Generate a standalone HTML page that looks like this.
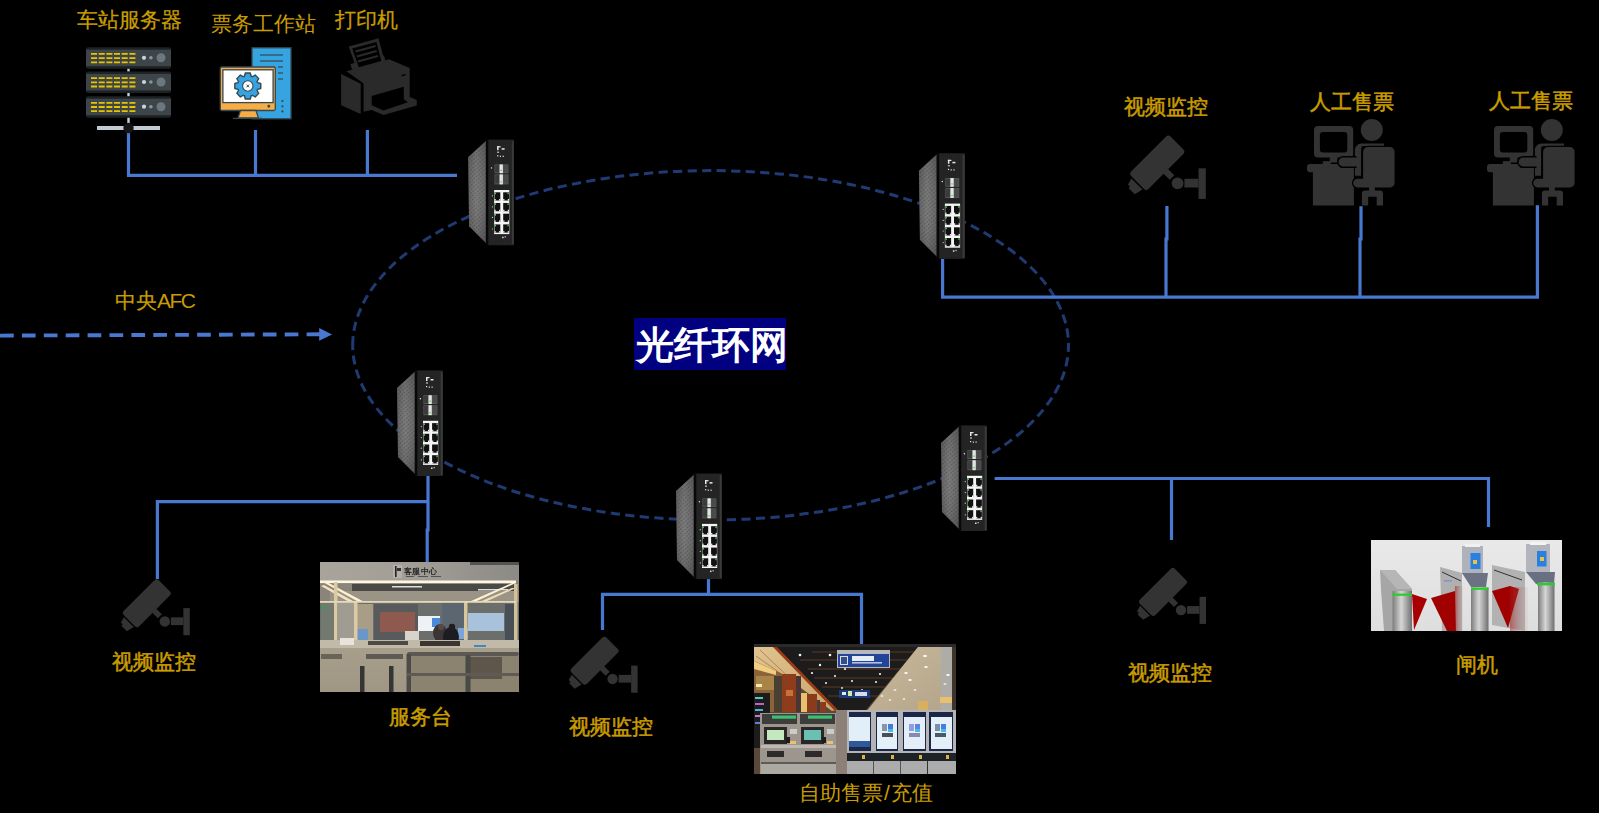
<!DOCTYPE html>
<html><head><meta charset="utf-8">
<style>
html,body{margin:0;padding:0;background:#000;}
body{width:1599px;height:813px;position:relative;overflow:hidden;font-family:"Liberation Sans",sans-serif;}
.lb{position:absolute;color:#C99D00;font-size:21px;line-height:21px;white-space:nowrap;}
#title{display:flex;justify-content:center;align-items:center;white-space:nowrap;position:absolute;left:634px;top:318px;width:152px;height:52px;background:#000080;color:#fff;font-size:38px;line-height:52px;padding:2px 0 0 3px;box-sizing:border-box;text-align:center;font-weight:700;letter-spacing:0px;}
svg{position:absolute;left:0;top:0;}
.b{-webkit-text-stroke:0.5px #C99D00;}
.m{-webkit-text-stroke:0.25px #C99D00;}
</style></head>
<body>
<svg width="1599" height="813" viewBox="0 0 1599 813">
<defs>
  <linearGradient id="sideG" x1="0" y1="0" x2="1" y2="0">
    <stop offset="0" stop-color="#5c5c5c"/><stop offset="0.45" stop-color="#767676"/><stop offset="1" stop-color="#606060"/>
  </linearGradient>
  <linearGradient id="sideV" x1="0" y1="0" x2="0" y2="1">
    <stop offset="0" stop-color="#000" stop-opacity="0.1"/><stop offset="0.5" stop-color="#fff" stop-opacity="0.05"/><stop offset="1" stop-color="#000" stop-opacity="0.15"/>
  </linearGradient>
  <pattern id="vent" width="3" height="3" patternUnits="userSpaceOnUse" patternTransform="rotate(-40)">
    <rect width="1.6" height="1.2" fill="#2a2a2a" fill-opacity="0.45"/>
  </pattern>
  <pattern id="frontTex" width="2" height="3" patternUnits="userSpaceOnUse">
    <rect width="1" height="3" fill="#2c2c2c"/>
  </pattern>
  <g id="sw">
    <polygon points="-19.5,18 -1.5,1.5 -1.5,104 -18.5,87" fill="url(#sideG)"/>
    <polygon points="-19.5,18 -1.5,1.5 -1.5,104 -18.5,87" fill="url(#vent)"/>
    <polygon points="-19.5,18 -1.5,1.5 -1.5,104 -18.5,87" fill="url(#sideV)"/>
    <rect x="-1.8" y="0" width="2.6" height="106" fill="#080808"/>
    <rect x="0.8" y="0.5" width="25.6" height="105.5" fill="#1b1b1b"/>
    <rect x="0.8" y="0.5" width="25.6" height="105.5" fill="url(#frontTex)"/>
    <rect x="24.2" y="2" width="2" height="103" fill="#3a3a3a"/>
    <g fill="#e8e8e8">
      <rect x="9.5" y="7" width="1.5" height="4"/><rect x="9.5" y="7" width="3.5" height="1.2"/><rect x="14" y="9" width="3" height="1.5"/>
      <rect x="9.5" y="12.5" width="2" height="1"/>
      <rect x="9.5" y="16" width="1.2" height="1.2"/><rect x="12.2" y="16.5" width="1.2" height="1.2"/><rect x="15" y="16.5" width="1.2" height="1.2"/>
    </g>
    <rect x="6.9" y="25.2" width="14" height="8.8" fill="#555"/>
    <rect x="12" y="25.2" width="3.3" height="8.8" fill="#e4e4e4"/>
    <rect x="7.6" y="26" width="3.8" height="7" fill="#3a3a3a"/><rect x="16" y="26" width="4.2" height="7" fill="#4a4a4a"/>
    <rect x="13" y="30.5" width="1.3" height="1.3" fill="#3d3"/>
    <rect x="6.9" y="35.2" width="14" height="10" fill="#555"/>
    <rect x="12" y="35.2" width="3.3" height="10" fill="#e4e4e4"/>
    <rect x="7.6" y="36" width="3.8" height="8.2" fill="#3a3a3a"/><rect x="16" y="36" width="4.2" height="8.2" fill="#4a4a4a"/>
    <rect x="13" y="42" width="1.3" height="1.3" fill="#3d3"/>
    <circle cx="3.9" cy="28.7" r="0.7" fill="#eee"/>
    <rect x="6.5" y="50.8" width="15.2" height="44.1" fill="#f4f4f4"/>
    <g fill="#111">
      <rect x="6.9" y="53.1" width="5.8" height="8.2"/><rect x="15.6" y="53.1" width="5.8" height="8.2"/>
      <rect x="6.9" y="63.8" width="5.8" height="8.2"/><rect x="15.6" y="63.8" width="5.8" height="8.2"/>
      <rect x="6.9" y="74.5" width="5.8" height="8.2"/><rect x="15.6" y="74.5" width="5.8" height="8.2"/>
      <rect x="6.9" y="85.2" width="5.8" height="8.2"/><rect x="15.6" y="85.2" width="5.8" height="8.2"/>
    </g>
    <g fill="#f4f4f4">
      <rect x="6.9" y="59.8" width="1.2" height="1.5"/><rect x="11.5" y="59.8" width="1.2" height="1.5"/><rect x="15.6" y="59.8" width="1.2" height="1.5"/><rect x="20.2" y="59.8" width="1.2" height="1.5"/>
      <rect x="6.9" y="70.5" width="1.2" height="1.5"/><rect x="11.5" y="70.5" width="1.2" height="1.5"/><rect x="15.6" y="70.5" width="1.2" height="1.5"/><rect x="20.2" y="70.5" width="1.2" height="1.5"/>
      <rect x="6.9" y="81.2" width="1.2" height="1.5"/><rect x="11.5" y="81.2" width="1.2" height="1.5"/><rect x="15.6" y="81.2" width="1.2" height="1.5"/><rect x="20.2" y="81.2" width="1.2" height="1.5"/>
      <rect x="6.9" y="91.9" width="1.2" height="1.5"/><rect x="11.5" y="91.9" width="1.2" height="1.5"/><rect x="15.6" y="91.9" width="1.2" height="1.5"/><rect x="20.2" y="91.9" width="1.2" height="1.5"/>
    </g>
    <g fill="#5d5">
      <rect x="7.2" y="53.4" width="1.2" height="1.6"/><rect x="7.2" y="64.1" width="1.2" height="1.6"/><rect x="7.2" y="74.8" width="1.2" height="1.6"/><rect x="7.2" y="85.5" width="1.2" height="1.6"/>
      <rect x="19.9" y="53.4" width="1.2" height="1.6"/><rect x="19.9" y="64.1" width="1.2" height="1.6"/><rect x="19.9" y="85.5" width="1.2" height="1.6"/>
    </g>
    <g fill="#ddd"><circle cx="4.8" cy="56.6" r="0.6"/><circle cx="4.8" cy="67.6" r="0.6"/><circle cx="4.8" cy="78.2" r="0.6"/><circle cx="4.8" cy="89.8" r="0.6"/></g>
    <rect x="14.5" y="97.5" width="1.5" height="1.5" fill="#ddd"/><rect x="17" y="97" width="1.3" height="1.3" fill="#bbb"/>
  </g>
  <g id="cam" fill="#333">
    <g transform="translate(30.8,26.6) rotate(-45)">
      <rect x="-28.4" y="-12.5" width="55.8" height="24.5" rx="3.5"/>
      <polygon points="-29.9,-7.4 -29.9,8.3 -38.7,6.1 -38.7,-2.6 -36.6,-2.6 -36.6,-5.6"/>
      <rect x="-3.8" y="11" width="6.5" height="9.6"/>
    </g>
    <circle cx="50.55" cy="47.3" r="5.9"/>
    <rect x="57.4" y="42.75" width="14" height="8.75"/>
    <rect x="71.5" y="32.3" width="7.3" height="30.6"/>
  </g>
  <g id="agent" fill="#333">
    <rect x="14" y="11" width="39.2" height="31.6" rx="4"/>
    <rect x="19.9" y="16.9" width="27.4" height="20.5" rx="3" fill="#000"/>
    <rect x="29.8" y="42" width="7.6" height="5.5"/>
    <rect x="22.8" y="46.2" width="8" height="4"/>
    <rect x="7" y="49" width="33" height="8.2" rx="3"/>
    <rect x="12.9" y="52.6" width="41" height="37.9"/>
    <path d="M54.9,35 a6.5,6.5 0 0 1 6.5,-6.5 H84 v2.6 H63.5 a2.4,2.4 0 0 0 -2.4,2.4 V60.8 h-6.2z"/>
    <path d="M38.6,47 a4.4,4.4 0 0 1 4.4,-4.4 h12 v8.8 h-12 a4.4,4.4 0 0 1 -4.4,-4.4z" stroke="#000" stroke-width="3" paint-order="stroke"/>
    <rect x="54.9" y="42.6" width="6.2" height="8.8"/>
    <circle cx="71.8" cy="15" r="11"/>
    <path d="M68,32.1 H89.9 a4.7,4.7 0 0 1 4.7,4.7 V67.9 a4.5,4.5 0 0 1 -4.5,4.5 H57.55 a4.35,4.35 0 0 1 0,-8.7 H63.1 V37 a4.9,4.9 0 0 1 4.9,-4.9z" stroke="#000" stroke-width="2.6" paint-order="stroke"/>
    <rect x="69" y="72" width="5.8" height="4"/>
    <path d="M61.9,90.5 V78.4 a3,3 0 0 1 3,-3 h15.1 a3,3 0 0 1 3,3 V90.5 h-6.3 V81.8 h-8.5 V90.5z"/>
  </g>
</defs>

<!-- dashed ring -->
<path d="M352.7,345.3 A357.9,174.7 0 0 1 1068.5,345.3 A357.9,174.7 0 0 1 352.7,345.3" fill="none" stroke="#203a74" stroke-width="3" stroke-dasharray="9.2 5.355"/>

<!-- AFC arrow -->
<line x1="0" y1="335.6" x2="320" y2="334.3" stroke="#4878D0" stroke-width="3.9" stroke-dasharray="13.7 8.2"/>
<polygon points="319.2,327.9 332,334.4 319.2,340.8" fill="#4878D0"/>

<!-- solid connection lines -->
<g stroke="#4878D0" stroke-width="3.2" fill="none">
  <polyline points="128.5,131 128.5,175.4 457,175.4"/>
  <line x1="255.5" y1="130" x2="255.5" y2="175.4"/>
  <line x1="367.4" y1="130" x2="367.4" y2="175.4"/>
  <polyline points="942.6,259 942.6,297.2 1537.4,297.2 1537.4,205.3"/>
  <polyline points="1166.9,206 1166.9,239 1166,239 1166,297"/>
  <polyline points="1361,206.3 1361,239 1360,239 1360,297"/>
  <polyline points="157.4,579 157.4,501.6 428,501.6"/>
  <polyline points="428,476 428,530 427.2,530 427.2,562"/>
  <line x1="708.5" y1="579" x2="708.5" y2="594.4"/>
  <polyline points="602.5,630 602.5,594.4 861.5,594.4 861.5,645"/>
  <polyline points="994.6,478.5 1488.5,478.5 1488.5,527"/>
  <line x1="1171.5" y1="478.5" x2="1171.5" y2="540"/>
</g>

<!-- switches -->
<use href="#sw" x="487.6" y="139.2"/>
<use href="#sw" x="938.4" y="152.8"/>
<use href="#sw" x="416.5" y="370"/>
<use href="#sw" x="695.5" y="473.1"/>
<use href="#sw" x="960.5" y="425"/>

<!-- cameras -->
<use href="#cam" transform="translate(1127,136)"/>
<use href="#cam" transform="translate(120,579.5) scale(0.886)"/>
<use href="#cam" transform="translate(567.8,637) scale(0.886)"/>
<use href="#cam" transform="translate(1136.2,568.2) scale(0.886)"/>

<!-- agents -->
<use href="#agent" transform="translate(1300,115)"/>
<use href="#agent" transform="translate(1480,115)"/>

<!-- server rack -->
<g id="server">
  <g transform="translate(0,0)">
    <rect x="86" y="47.2" width="85" height="21.6" rx="2" fill="#1d2225"/>
    <rect x="86" y="49.7" width="85" height="16.5" fill="#3e4549"/>
  </g>
  <g>
    <rect x="86" y="71.4" width="85" height="21.6" rx="2" fill="#1d2225"/>
    <rect x="86" y="73.9" width="85" height="16.5" fill="#3e4549"/>
  </g>
  <g>
    <rect x="86" y="96.2" width="85" height="21.6" rx="2" fill="#1d2225"/>
    <rect x="86" y="98.7" width="85" height="16.5" fill="#3e4549"/>
  </g>
  <g fill="#e8c400" id="dashes">
    <path d="M91,53 h6v1.8h-6z M98.7,53 h6v1.8h-6z M106.4,53 h6v1.8h-6z M114,53 h6v1.8h-6z M121.7,53 h6v1.8h-6z M129.4,53 h6v1.8h-6z"/>
    <path d="M91,57.2 h6v1.8h-6z M98.7,57.2 h6v1.8h-6z M106.4,57.2 h6v1.8h-6z M114,57.2 h6v1.8h-6z M121.7,57.2 h6v1.8h-6z M129.4,57.2 h6v1.8h-6z"/>
    <path d="M91,61.4 h6v1.8h-6z M98.7,61.4 h6v1.8h-6z M106.4,61.4 h6v1.8h-6z M114,61.4 h6v1.8h-6z M121.7,61.4 h6v1.8h-6z M129.4,61.4 h6v1.8h-6z"/>
  </g>
  <use href="#dashes" y="24.2"/>
  <use href="#dashes" y="48.9"/>
  <g>
    <circle cx="144" cy="57.8" r="2.1" fill="#c9d3da"/><circle cx="150.9" cy="57.8" r="1.8" fill="#8a959c"/><circle cx="161" cy="57.8" r="4.5" fill="#6c787f"/>
    <circle cx="144" cy="82" r="2.1" fill="#c9d3da"/><circle cx="150.9" cy="82" r="1.8" fill="#8a959c"/><circle cx="161" cy="82" r="4.5" fill="#6c787f"/>
    <circle cx="144" cy="106.7" r="2.1" fill="#c9d3da"/><circle cx="150.9" cy="106.7" r="1.8" fill="#8a959c"/><circle cx="161" cy="106.7" r="4.5" fill="#6c787f"/>
  </g>
  <rect x="127.3" y="68.8" width="2.4" height="2.6" fill="#c5d0d8"/>
  <rect x="127.3" y="93" width="2.4" height="3.2" fill="#c5d0d8"/>
  <rect x="127.3" y="117.8" width="2.4" height="6" fill="#c5d0d8"/>
  <rect x="97" y="126" width="63" height="4" fill="#c0ccd4"/>
  <circle cx="128.5" cy="128" r="5.2" fill="#151515"/>
</g>

<!-- workstation -->
<g id="ws" stroke="#37474f" stroke-width="1.3">
  <rect x="252" y="47.8" width="39" height="71" fill="#35a4e0"/>
  <rect x="220.3" y="67" width="55" height="43.5" rx="1.5" fill="#f6ad45"/>
  <rect x="222.9" y="69.8" width="50.2" height="32.8" fill="#fff"/>
  <polygon points="240.5,110.5 256,110.5 258.5,118 238,118" fill="#f6ad45"/>
  <line x1="233" y1="118.4" x2="262" y2="118.4"/>
  <circle cx="268.8" cy="106.3" r="0.8" fill="#37474f"/>
</g>
<g stroke="#37474f" stroke-width="1.2">
  <line x1="260" y1="55" x2="283" y2="55"/><line x1="260" y1="61" x2="283" y2="61"/>
  <line x1="278" y1="67" x2="283" y2="67"/><line x1="278" y1="73" x2="283" y2="73"/><line x1="278" y1="79" x2="283" y2="79"/>
</g>
<g fill="#37474f"><circle cx="282.4" cy="101" r="1.1"/><circle cx="282.4" cy="106.3" r="1.1"/><circle cx="282.4" cy="111.4" r="1.1"/></g>
<g transform="translate(247.8,86)">
  <path id="gear" d="M-3.35,-9.74 L-2.52,-12.96 L2.52,-12.96 L3.35,-9.74 A10.3,10.3 0 0 1 4.52,-9.26 L7.38,-10.94 L10.94,-7.38 L9.26,-4.52 A10.3,10.3 0 0 1 9.74,-3.35 L12.96,-2.52 L12.96,2.52 L9.74,3.35 A10.3,10.3 0 0 1 9.26,4.52 L10.94,7.38 L7.38,10.94 L4.52,9.26 A10.3,10.3 0 0 1 3.35,9.74 L2.52,12.96 L-2.52,12.96 L-3.35,9.74 A10.3,10.3 0 0 1 -4.52,9.26 L-7.38,10.94 L-10.94,7.38 L-9.26,4.52 A10.3,10.3 0 0 1 -9.74,3.35 L-12.96,2.52 L-12.96,-2.52 L-9.74,-3.35 A10.3,10.3 0 0 1 -9.26,-4.52 L-10.94,-7.38 L-7.38,-10.94 L-4.52,-9.26 A10.3,10.3 0 0 1 -3.35,-9.74 Z" fill="#35a4e0" stroke="#37474f" stroke-width="1.4" stroke-linejoin="round"/>
  <circle r="5.2" fill="#fff" stroke="#37474f" stroke-width="1.1"/>
  <path d="M-1.3,-1.3 L1.3,1.3 M1.3,-1.3 L-1.3,1.3" stroke="#37474f" stroke-width="1"/>
</g>

<!-- printer -->
<g fill="#2a2a2a">
  <polygon points="341.1,74 360.7,83.8 360.7,114 341.1,105.2"/>
  <polygon points="346.5,71.3 389,59.2 409.7,68 409.7,97 416.8,100 416.8,105.4 383.5,114.9 371.7,110 363.6,111.8 363.6,83.4"/>
  <polygon points="371.7,96 403.8,86.7 403.8,99.3 407.9,102.2 383.5,110.4 371.7,105.2" fill="#000"/>
  <polygon points="401.3,75.2 405.7,73.8 405.7,75.2 401.3,76.6" fill="#000"/>
  <polygon points="350.4,64 384,55.5 386.5,64.5 352,69.8"/>
  <polygon points="348.7,46.4 378.5,38.2 385,63.3 357.1,70.3"/>
  <polygon points="352.2,48.6 376.4,41.9 381.3,61.1 358.8,67.2" fill="#000"/>
  <g stroke="#2a2a2a" stroke-width="2.3">
    <line x1="355.5" y1="51.5" x2="375.5" y2="46"/>
    <line x1="356.7" y1="56.5" x2="376.7" y2="51"/>
    <line x1="357.9" y1="61.5" x2="378" y2="56"/>
  </g>
</g>

<!-- photos -->
<defs>
  <filter id="soft" x="-2%" y="-2%" width="104%" height="104%"><feGaussianBlur stdDeviation="0.6"/></filter>
  <clipPath id="c1"><rect x="320" y="562" width="199" height="130"/></clipPath>
  <clipPath id="c2"><rect x="754" y="644" width="202" height="130"/></clipPath>
  <clipPath id="c3"><rect x="1371" y="540" width="191" height="91"/></clipPath>
  <linearGradient id="p1top" x1="0" y1="0" x2="1" y2="0">
    <stop offset="0" stop-color="#a9a49b"/><stop offset="0.5" stop-color="#a19d96"/><stop offset="1" stop-color="#8c8a86"/>
  </linearGradient>
  <linearGradient id="p1cnt" x1="0" y1="0" x2="0" y2="1">
    <stop offset="0" stop-color="#a89e8c"/><stop offset="1" stop-color="#a09684"/>
  </linearGradient>
  <linearGradient id="steel" x1="0" y1="0" x2="1" y2="0">
    <stop offset="0" stop-color="#7c7c7c"/><stop offset="0.45" stop-color="#d6d6d6"/><stop offset="0.7" stop-color="#a8a8a8"/><stop offset="1" stop-color="#6e6e6e"/>
  </linearGradient>
  <linearGradient id="p3bg" x1="0" y1="0" x2="0" y2="1">
    <stop offset="0" stop-color="#e9e9e9"/><stop offset="1" stop-color="#dedede"/>
  </linearGradient>
  <linearGradient id="fadeRed" x1="0" y1="0" x2="1" y2="0">
    <stop offset="0" stop-color="#a01010" stop-opacity="0.9"/><stop offset="1" stop-color="#c0a0a0" stop-opacity="0.2"/>
  </linearGradient>
  <linearGradient id="wall2" x1="0" y1="0" x2="1" y2="1">
    <stop offset="0" stop-color="#c9b89a"/><stop offset="1" stop-color="#b3a48a"/>
  </linearGradient>
  <linearGradient id="beige2" x1="0" y1="0" x2="1" y2="1">
    <stop offset="0" stop-color="#e0c490"/><stop offset="1" stop-color="#c8a46a"/>
  </linearGradient>
</defs>
<g clip-path="url(#c1)" filter="url(#soft)">
  <rect x="320" y="562" width="199" height="130" fill="#8a8478"/>
  <rect x="320" y="562" width="199" height="20" fill="url(#p1top)"/>
  <rect x="470" y="562" width="49" height="3" fill="#555350"/>
  <rect x="393" y="565" width="9" height="13" fill="#b4b0a8"/>
  <rect x="395" y="566" width="1.6" height="11" fill="#222"/><rect x="397" y="568" width="4" height="3" fill="#333"/>
  <text x="404" y="574" font-size="8.2" fill="#262626" font-weight="bold" letter-spacing="0.4">客服中心</text>
  <g fill="#55534f"><rect x="406" y="576" width="8" height="1"/><rect x="418" y="576" width="10" height="1"/><rect x="431" y="576" width="10" height="1"/></g>
  <rect x="320" y="582" width="199" height="20" fill="#8a847a"/>
  <rect x="352" y="584" width="165" height="7" fill="#4a4845"/>
  <rect x="330" y="591" width="187" height="10" fill="#9a9487"/>
  <rect x="392" y="586" width="30" height="1.5" fill="#ddd"/>
  <rect x="478" y="589" width="30" height="1.5" fill="#ddd"/>
  <rect x="320" y="580.5" width="196" height="2.6" fill="#fff7e2"/>
  <polygon points="321,581 325,581 370,605 366,606" fill="#fff2d4"/>
  <polygon points="321,586 324,585 362,606 358,607" fill="#f4e4c0"/>
  <polygon points="516,583 512,583 462,605 466,606" fill="#fff2d4"/>
  <polygon points="516,588 512,588 470,606 474,607" fill="#f0e0bc"/>
  <rect x="320" y="602" width="199" height="38" fill="#6c6e6c"/>
  <rect x="321" y="602" width="14" height="38" fill="#727a70"/>
  <rect x="321" y="606" width="4" height="3" fill="#3c9a50"/>
  <rect x="338" y="602" width="16" height="38" fill="#a09c92"/>
  <rect x="357" y="604" width="16" height="36" fill="#a89e88"/>
  <rect x="374" y="604" width="44" height="36" fill="#585a5c"/>
  <rect x="380" y="612" width="35" height="20" fill="#8e5a50"/>
  <rect x="418" y="616" width="22" height="15" fill="#eef2f6"/>
  <rect x="432" y="618" width="8" height="9" fill="#4a8ad8"/>
  <rect x="442" y="603" width="22" height="37" fill="#5c6670"/>
  <rect x="468" y="613" width="36" height="18" fill="#a8c2dc"/>
  <rect x="505" y="604" width="11" height="36" fill="#4a5056"/>
  <rect x="357" y="629" width="11" height="11" fill="#6a96c8"/>
  <rect x="458" y="628" width="10" height="11" fill="#7aa4dc"/>
  <rect x="405" y="631" width="14" height="9" fill="#d8d4cc"/>
  <ellipse cx="440" cy="633" rx="7" ry="9" fill="#3a3434"/>
  <ellipse cx="451" cy="637" rx="8" ry="10" fill="#1e1c20"/>
  <circle cx="441" cy="627" r="3" fill="#5a4a40"/>
  <circle cx="452" cy="627" r="3.2" fill="#241e1e"/>
  <rect x="334" y="582" width="3.5" height="66" fill="#dccba2"/>
  <rect x="354" y="602" width="3.5" height="46" fill="#dccba2"/>
  <rect x="464" y="601" width="3.5" height="47" fill="#d8c69c"/>
  <rect x="514" y="584" width="3.5" height="64" fill="#d2c098"/>
  <rect x="320" y="601" width="196" height="1.8" fill="#e6d9ba"/>
  <rect x="320" y="640" width="199" height="9" fill="#c2baa8"/>
  <rect x="340" y="638" width="14" height="7" fill="#e8e4dc"/>
  <rect x="368" y="641" width="40" height="4" fill="#4e4a44"/>
  <rect x="420" y="641" width="40" height="5" fill="#3a3632"/>
  <rect x="474" y="645" width="12" height="2" fill="#3a8ac0"/>
  <rect x="320" y="648" width="199" height="44" fill="url(#p1cnt)"/>
  <rect x="321" y="654" width="21" height="5" fill="#6a6458"/>
  <rect x="366" y="654" width="37" height="5" fill="#5e5a52"/>
  <rect x="360" y="666" width="4.5" height="26" fill="#363636"/>
  <rect x="389" y="666" width="4.5" height="26" fill="#363636"/>
  <rect x="411" y="656" width="108" height="36" fill="#8c8270"/>
  <rect x="470" y="657" width="32" height="22" fill="#5e574b"/>
  <rect x="407" y="652" width="112" height="4" rx="2" fill="#5c5852"/>
  <rect x="406.5" y="654" width="4.5" height="38" fill="#4e4c48"/>
  <rect x="465.5" y="655" width="5" height="37" fill="#4a4844"/>
  <rect x="407" y="673" width="112" height="3" fill="#5e5a52"/>
</g>

<g clip-path="url(#c2)" filter="url(#soft)">
  <rect x="754" y="644" width="202" height="130" fill="#5a4a3a"/>
  <polygon points="772,647 918,647 866,710 836,710" fill="#1f1e1f"/>
  <g stroke="#6a3a22" stroke-width="0.8" fill="none">
    <line x1="812" y1="652" x2="916" y2="652"/><line x1="800" y1="660" x2="910" y2="660"/>
    <line x1="808" y1="669" x2="900" y2="669"/><line x1="814" y1="678" x2="893" y2="678"/>
    <line x1="822" y1="687" x2="886" y2="687"/><line x1="828" y1="696" x2="878" y2="696"/>
  </g>
  <g fill="#f4f4f4">
    <circle cx="800" cy="655" r="1.3"/><circle cx="830" cy="655" r="1.3"/><circle cx="820" cy="665" r="1.2"/><circle cx="845" cy="669" r="1.1"/>
    <circle cx="812" cy="673" r="1.1"/><circle cx="835" cy="676" r="1"/><circle cx="852" cy="681" r="1"/><circle cx="826" cy="683" r="1"/>
    <circle cx="880" cy="674" r="1.1"/><circle cx="876" cy="682" r="1"/><circle cx="842" cy="688" r="0.9"/><circle cx="862" cy="690" r="0.9"/>
  </g>
  <polygon points="754,647 775,647 836,710 832,711 782,674 754,661" fill="url(#beige2)"/>
  <polygon points="773,647 777,647 838,710 834,710" fill="#9a3a18"/>
  <line x1="760" y1="650" x2="800" y2="688" stroke="#a05a30" stroke-width="0.6"/>
  <line x1="756" y1="656" x2="790" y2="680" stroke="#a05a30" stroke-width="0.6"/>
  <polygon points="754,661 782,674 782,712 754,712" fill="#8a6438"/>
  <polygon points="754,661 776,671 776,675 754,669" fill="#f2cc80"/>
  <rect x="756" y="676" width="18" height="14" fill="#a8844a"/>
  <rect x="756" y="684" width="6" height="3" fill="#f8e8b0"/>
  <rect x="774" y="676" width="8" height="36" fill="#4a4030"/>
  <rect x="782" y="674" width="14" height="38" fill="#8e3c1c"/>
  <rect x="786" y="690" width="7" height="6" fill="#c8703a"/>
  <rect x="796" y="676" width="5" height="36" fill="#4a3434"/>
  <rect x="801" y="693" width="6" height="19" fill="#e8c070"/>
  <rect x="807" y="694" width="10" height="18" fill="#8a3a1a"/>
  <rect x="817" y="700" width="3" height="12" fill="#4a3a3a"/>
  <rect x="820" y="702" width="6" height="10" fill="#8a3a1a"/>
  <rect x="754" y="693" width="16" height="55" fill="#1c1a1c"/>
  <rect x="755" y="697" width="8" height="2" fill="#50c8c0"/><rect x="755" y="703" width="9" height="2" fill="#c060c0"/><rect x="755" y="709" width="8" height="2" fill="#50b0d8"/><rect x="755" y="715" width="8" height="2" fill="#d070d0"/><rect x="755" y="722" width="9" height="2" fill="#6080e0"/>
  <polygon points="918,647 952,647 952,712 866,712" fill="url(#wall2)"/>
  <rect x="941" y="647" width="11" height="65" fill="#aeaca6"/>
  <rect x="952" y="647" width="4" height="127" fill="#3e342c"/>
  <g fill="#fafafa">
    <ellipse cx="925" cy="656" rx="2.2" ry="1"/><ellipse cx="926" cy="667" rx="1.8" ry="0.9"/><ellipse cx="906" cy="673" rx="1.8" ry="0.9"/><ellipse cx="910" cy="680" rx="1.8" ry="0.9"/>
    <ellipse cx="948" cy="675" rx="1.8" ry="0.9"/><ellipse cx="945" cy="684" rx="1.5" ry="0.8"/><ellipse cx="895" cy="690" rx="1.5" ry="0.8"/><ellipse cx="915" cy="690" rx="1.4" ry="0.8"/>
    <ellipse cx="882" cy="696" rx="1.4" ry="0.8"/><ellipse cx="890" cy="700" rx="1.3" ry="0.8"/><ellipse cx="904" cy="699" rx="1.3" ry="0.8"/>
  </g>
  <rect x="940" y="697" width="12" height="6" fill="#e8c070"/>
  <rect x="918" y="701" width="10" height="9" fill="#d8b060"/>
  <rect x="837" y="650" width="53" height="18" fill="#b8b8b8"/>
  <rect x="838" y="654" width="51" height="13" fill="#24449a"/>
  <rect x="840" y="656" width="8" height="9" fill="#d8dce8"/><rect x="841" y="657" width="6" height="7" fill="#30508a"/>
  <rect x="852" y="656" width="22" height="5" fill="#e8ecf4"/><rect x="852" y="662" width="30" height="1.6" fill="#b8c0d8"/>
  <rect x="839" y="690" width="31" height="8" fill="#1e3a78"/>
  <rect x="842" y="692" width="4" height="3" fill="#e8e8e8"/><rect x="848" y="691" width="4" height="5" fill="#d0e8a0"/><rect x="855" y="692" width="12" height="4" fill="#d8dce8"/>
  <rect x="836" y="710" width="12" height="64" fill="#8c8078"/>
  <rect x="760" y="713" width="76" height="61" fill="#9c968e"/>
  <rect x="762" y="714" width="35" height="10" fill="#3e3c3a"/><rect x="800" y="714" width="35" height="10" fill="#3e3c3a"/>
  <rect x="772" y="715.5" width="24" height="3.2" fill="#3cc070"/><rect x="808" y="715.5" width="24" height="3.2" fill="#3cc070"/>
  <rect x="764" y="727" width="23" height="17" fill="#2a2826"/><rect x="801" y="727" width="23" height="17" fill="#2a2826"/>
  <rect x="767" y="730" width="17" height="10" fill="#c4e8c0"/><rect x="804" y="730" width="17" height="10" fill="#6ac0b2"/>
  <rect x="790" y="729" width="7" height="5" fill="#ccc"/><rect x="827" y="729" width="7" height="5" fill="#ccc"/>
  <rect x="786" y="737" width="4" height="6" fill="#1a1a1a"/><rect x="822" y="737" width="4" height="6" fill="#1a1a1a"/>
  <rect x="790" y="741" width="6" height="3" fill="#f0c070"/><rect x="827" y="741" width="6" height="3" fill="#f0c070"/>
  <rect x="761" y="745" width="75" height="3" fill="#bdb8b0"/>
  <rect x="767" y="751" width="17" height="6" fill="#2e2c2a"/><rect x="805" y="751" width="17" height="6" fill="#2e2c2a"/>
  <rect x="761" y="762" width="75" height="2" fill="#5e5a56"/>
  <rect x="761" y="764" width="75" height="10" fill="#aca8a2"/>
  <rect x="847" y="710" width="109" height="44" fill="#b4b4b6"/>
  <rect x="849" y="712" width="22" height="39" fill="#1c2846"/><rect x="849" y="717" width="21" height="30" fill="#e2eef8"/>
  <rect x="876" y="712" width="22" height="39" fill="#1c2846"/><rect x="877" y="717" width="20" height="32" fill="#e4f0f8"/>
  <rect x="903" y="712" width="23" height="39" fill="#1c2846"/><rect x="904" y="717" width="21" height="32" fill="#e4eef8"/>
  <rect x="929" y="712" width="24" height="39" fill="#1c2846"/><rect x="931" y="717" width="21" height="32" fill="#e4f0f8"/>
  <rect x="882" y="724" width="5" height="7" fill="#8894a8"/><rect x="888" y="724" width="5" height="7" fill="#4a78d8"/><rect x="888" y="729" width="5" height="3" fill="#40c0e0"/><rect x="882" y="733" width="11" height="4" fill="#4a5058"/>
  <rect x="909" y="724" width="5" height="7" fill="#8ca0e0"/><rect x="915" y="724" width="5" height="7" fill="#6a80e0"/><rect x="915" y="729" width="5" height="3" fill="#40c0e0"/><rect x="909" y="733" width="11" height="4" fill="#8a88b0"/>
  <rect x="935" y="724" width="5" height="7" fill="#7890a8"/><rect x="941" y="724" width="5" height="7" fill="#4a78e8"/><rect x="941" y="729" width="5" height="3" fill="#40c0e0"/><rect x="935" y="733" width="11" height="4" fill="#4a5a68"/>
  <rect x="849" y="741" width="21" height="6" fill="#2e5a9a"/>
  <rect x="847" y="753" width="109" height="8" fill="#1e2228"/>
  <rect x="862" y="755" width="3" height="4" fill="#e0b040"/><rect x="891" y="755" width="3" height="4" fill="#e0b040"/><rect x="919" y="755" width="3" height="4" fill="#e0b040"/><rect x="946" y="755" width="3" height="4" fill="#e0b040"/>
  <rect x="847" y="761" width="109" height="13" fill="#acacac"/>
  <rect x="873" y="761" width="1" height="13" fill="#555"/><rect x="900" y="761" width="1" height="13" fill="#555"/><rect x="927" y="761" width="1" height="13" fill="#333"/>
  <rect x="754" y="644" width="202" height="3" fill="#2c2c2c"/>
</g>

<g clip-path="url(#c3)" filter="url(#soft)">
  <rect x="1371" y="540" width="191" height="91" fill="url(#p3bg)"/>
  <polygon points="1380,570 1395,570 1412,589 1412,631 1384,631 1381,590" fill="#a6a6a6"/>
  <polygon points="1380,570 1395,570 1412,589 1397,589" fill="#b6b6b6"/>
  <rect x="1392.5" y="591" width="19.5" height="40" fill="url(#steel)"/>
  <rect x="1392.5" y="593.6" width="19.5" height="2.2" fill="#28d028"/>
  <polygon points="1412,594 1427,599 1414,630" fill="#a80000"/>
  <polygon points="1440,567 1462,573 1462,631 1442,631" fill="#b0b0b0"/>
  <polygon points="1431,598 1455,591 1456,631 1447,631" fill="#a00000"/>
  <line x1="1442" y1="572" x2="1461" y2="581" stroke="#222" stroke-width="0.9"/>
  <rect x="1444" y="580" width="8" height="1.6" fill="#8a90d0"/>
  <rect x="1455" y="586" width="8" height="45" fill="url(#fadeRed)" opacity="0.6"/>
  <rect x="1462" y="546" width="21" height="28" fill="#aeb2ba"/><rect x="1465" y="544" width="15" height="3" fill="#f0f0f0"/>
  <rect x="1470.5" y="553" width="10" height="16" fill="#2a80e0"/>
  <rect x="1473" y="560" width="4" height="4" fill="#f0c040"/>
  <polygon points="1462,573 1488,573 1486,587 1471,587" fill="#6a7284"/>
  <rect x="1471" y="587.5" width="17.5" height="43.5" fill="url(#steel)"/>
  <rect x="1471" y="587.5" width="17.5" height="2.3" fill="#28d028"/>
  <polygon points="1492,565 1525,572 1525,631 1492,625" fill="#b2b2b2"/>
  <polygon points="1492,591 1510,586 1519,589 1508,628" fill="#a00000"/>
  <line x1="1494" y1="570" x2="1522" y2="580" stroke="#222" stroke-width="0.9"/>
  <rect x="1510" y="587" width="18" height="44" fill="url(#fadeRed)" opacity="0.55"/>
  <rect x="1526" y="544" width="24" height="28" fill="#b2b6bc"/><rect x="1530" y="542" width="16" height="3" fill="#f4f4f4"/>
  <rect x="1537" y="551" width="9.5" height="15.5" fill="#2a80e0"/>
  <rect x="1540" y="557" width="4" height="4" fill="#f0c040"/>
  <polygon points="1526,572 1555,572 1554,584 1536,584" fill="#687082"/>
  <rect x="1538" y="582.5" width="16.5" height="48.5" fill="url(#steel)"/>
  <rect x="1537" y="583" width="18" height="2.4" fill="#28d028"/>
</g>
</svg>

<!-- labels -->
<div class="lb m" style="left:77px;top:9px;">车站服务器</div>
<div class="lb" style="left:211px;top:13px;">票务工作站</div>
<div class="lb m" style="left:335px;top:9px;">打印机</div>
<div class="lb b" style="left:1124px;top:96px;">视频监控</div>
<div class="lb b" style="left:1310px;top:91px;">人工售票</div>
<div class="lb b" style="left:1489px;top:90px;">人工售票</div>
<div class="lb m" style="left:115px;top:290px;">中央<span style="-webkit-text-stroke:0;letter-spacing:-1.5px">AF</span><span style="-webkit-text-stroke:0">C</span></div>
<div class="lb b" style="left:112px;top:651px;">视频监控</div>
<div class="lb b" style="left:389px;top:706px;">服务台</div>
<div class="lb b" style="left:569px;top:716px;">视频监控</div>
<div class="lb" style="left:799px;top:782px;">自助售<span style="letter-spacing:1px">票/</span>充值</div>
<div class="lb b" style="left:1128px;top:662px;">视频监控</div>
<div class="lb b" style="left:1456px;top:654px;">闸机</div>
<div id="title">光纤环网</div>
</body></html>
